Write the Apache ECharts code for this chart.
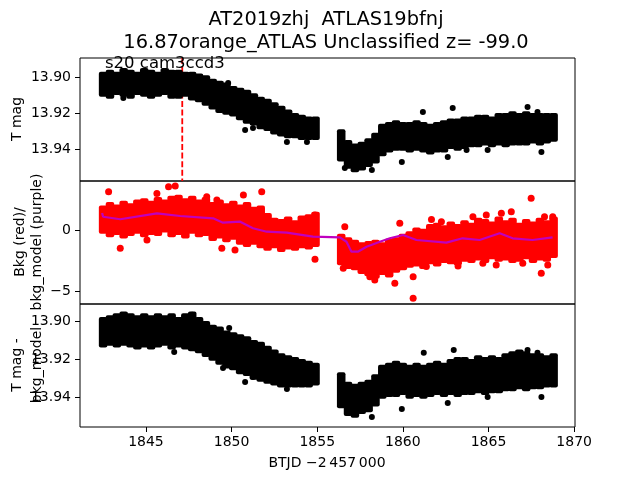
<!DOCTYPE html>
<html>
<head>
<meta charset="utf-8">
<script src="https://cdn.jsdelivr.net/npm/echarts@6/dist/echarts.min.js"></script>
<style>html,body{margin:0;padding:0;background:#fff}#c{width:640px;height:480px}</style>
</head>
<body>
<div id="c"></div>
<script>
// ---- data ----
const titleLine1 = 'AT2019zhj  ATLAS19bfnj';
const titleLine2 = '16.87orange_ATLAS Unclassified z= -99.0';
const xTicks = [1845, 1850, 1855, 1860, 1865, 1870];
const magTicks = [13.90, 13.92, 13.94];
const bkgTicks = [-5, 0];
const resTicks = [13.90, 13.92, 13.94];
const markerTime = 1847.12;

// time samples of the dense light-curve band (BTJD - 2457000)
const tBand = [1842.5,1842.9,1843.3,1843.7,1844.1,1844.5,1844.9,1845.3,1845.7,1846.1,1846.5,1846.9,1847.3,1847.7,1848.1,1848.5,1848.9,1849.3,1849.7,1850.1,1850.5,1850.9,1851.3,1851.7,1852.1,1852.5,1852.9,1853.3,1853.7,1854.1,1854.5,1854.9,
  1856.4,1856.8,1857.2,1857.6,1858.0,1858.4,1858.8,1859.2,1859.6,1860.0,1860.4,1860.8,1861.2,1861.6,1862.0,1862.4,1862.8,1863.2,1863.6,1864.0,1864.4,1864.8,1865.2,1865.6,1866.0,1866.4,1866.8,1867.2,1867.6,1868.0,1868.4,1868.8];

// panel 1: T mag band (bright edge / faint edge)
const magTop = [13.897,13.896,13.897,13.895,13.896,13.897,13.895,13.896,13.897,13.895,13.896,13.896,13.897,13.897,13.898,13.899,13.901,13.902,13.903,13.905,13.906,13.907,13.909,13.911,13.912,13.914,13.916,13.918,13.920,13.921,13.922,13.922,
  13.929,13.935,13.937,13.936,13.934,13.931,13.926,13.925,13.924,13.925,13.925,13.924,13.925,13.926,13.925,13.924,13.923,13.923,13.922,13.922,13.921,13.921,13.922,13.920,13.920,13.919,13.920,13.919,13.920,13.920,13.920,13.920];
const magBot = [13.911,13.912,13.910,13.911,13.912,13.910,13.911,13.912,13.911,13.910,13.912,13.912,13.911,13.913,13.914,13.916,13.918,13.920,13.921,13.922,13.924,13.926,13.927,13.929,13.930,13.932,13.933,13.934,13.934,13.935,13.935,13.935,
  13.947,13.951,13.953,13.952,13.950,13.948,13.944,13.942,13.941,13.941,13.942,13.941,13.942,13.943,13.942,13.942,13.940,13.941,13.940,13.939,13.939,13.938,13.939,13.938,13.939,13.938,13.938,13.938,13.937,13.938,13.937,13.936];
const magOutT = [1850.79,1851.25,1853.23,1854.40,1849.80,1859.94,1861.17,1862.91,1867.28,1867.86,1868.09,1862.62,1864.95,1858.19,1856.61,1863.72,1843.68];
const magOutV = [13.9294,13.9283,13.9361,13.9361,13.9033,13.9472,13.9194,13.9172,13.9167,13.9194,13.9417,13.9444,13.9406,13.9517,13.9506,13.9406,13.9117];

// panel 2: background (red) core band and scattered points, model (purple)
const bkgTop = [2.0,2.3,2.1,2.4,2.2,2.5,2.6,2.4,2.7,2.5,2.8,2.9,2.6,2.8,2.5,2.7,2.3,2.5,2.2,2.4,2.1,2.3,1.9,2.0,1.4,1.0,0.9,1.1,0.8,1.2,1.3,1.5,
  -0.3,-0.6,-0.8,-1.0,-0.9,-0.8,-1.0,-0.7,-0.6,-0.3,-0.1,0.2,0.1,0.5,0.6,0.4,0.7,0.5,0.8,0.6,1.0,0.9,0.7,1.1,0.8,1.0,0.6,0.9,0.7,1.0,0.8,1.1];
const bkgBot = [-0.3,-0.6,-0.4,-0.7,-0.5,-0.3,-0.6,-0.4,-0.5,-0.2,-0.6,-0.4,-0.7,-0.3,-0.6,-0.5,-0.9,-0.7,-1.0,-0.8,-1.2,-1.4,-1.2,-1.5,-1.7,-1.5,-1.8,-1.6,-1.7,-1.5,-1.6,-1.4,
  -2.9,-3.2,-3.3,-3.6,-3.8,-4.0,-3.7,-3.9,-3.5,-3.3,-3.1,-3.0,-3.2,-2.8,-3.0,-2.7,-2.8,-2.9,-2.6,-2.7,-2.5,-2.7,-2.4,-2.6,-2.5,-2.7,-2.6,-2.4,-2.7,-2.5,-2.6,-2.3];
const bkgOutT = [1842.82,1846.32,1846.71,1851.76,1850.69,1843.50,1845.06,1849.43,1850.20,1854.87,1856.61,1859.82,1860.60,1858.36,1859.53,1867.49,1868.08,1866.33,1864.87,1861.67,1863.22,1865.45,1868.46,1868.75,1854.87,1845.64,1848.55,1849.14,1860.60,1856.52,1856.52,1858.07,1862.25,1864.09,1865.75,1868.27,1864.67,1867.00,1861.37];
const bkgOutV = [3.14,3.55,3.60,3.14,2.87,-1.50,-0.82,-1.50,-1.64,-2.40,0.27,0.55,-5.60,-4.10,-4.37,2.60,-3.55,1.50,1.23,0.87,-2.95,-2.87,-2.87,1.09,1.23,3.00,2.73,2.46,-3.83,-2.19,-3.14,-3.83,0.68,1.09,1.37,1.09,-2.73,-2.73,-3.00];
const modelT = [1842.44,1842.5,1843.50,1845.64,1847.00,1848.92,1849.50,1850.50,1851.25,1852.05,1853.22,1854.75,1856.32,1856.71,1857.00,1857.37,1857.88,1858.66,1859.24,1860.01,1860.79,1862.54,1863.49,1864.48,1865.65,1866.41,1867.57,1868.74];
const modelV = [1.40,1.09,0.88,1.37,1.15,0.96,0.60,0.68,0.14,-0.14,-0.22,-0.55,-0.60,-0.96,-1.78,-1.78,-1.37,-0.96,-0.68,-0.41,-0.82,-1.04,-0.68,-0.82,-0.27,-0.68,-0.82,-0.60];

// panel 3: T mag - bkg_model band
const resTop = [13.898,13.897,13.896,13.895,13.896,13.897,13.896,13.897,13.896,13.897,13.896,13.898,13.896,13.895,13.898,13.900,13.902,13.903,13.905,13.906,13.907,13.908,13.910,13.911,13.913,13.915,13.917,13.918,13.919,13.920,13.921,13.922,
  13.927,13.932,13.933,13.932,13.931,13.928,13.923,13.922,13.921,13.922,13.923,13.922,13.923,13.922,13.921,13.922,13.920,13.919,13.919,13.920,13.918,13.919,13.918,13.919,13.917,13.916,13.915,13.916,13.917,13.917,13.918,13.917];
const resBot = [13.914,13.913,13.914,13.913,13.914,13.915,13.914,13.915,13.914,13.913,13.915,13.914,13.915,13.916,13.917,13.919,13.921,13.923,13.925,13.926,13.928,13.929,13.931,13.932,13.933,13.934,13.935,13.935,13.935,13.935,13.935,13.934,
  13.946,13.950,13.951,13.949,13.948,13.945,13.941,13.940,13.940,13.939,13.941,13.940,13.941,13.940,13.939,13.940,13.939,13.940,13.939,13.939,13.938,13.939,13.938,13.938,13.937,13.937,13.936,13.937,13.936,13.936,13.935,13.935];
const resOutT = [1849.86,1849.50,1850.79,1851.25,1853.23,1846.65,1861.22,1862.97,1867.28,1867.86,1859.94,1858.19,1868.09,1864.95,1862.62,1847.70];
const resOutV = [13.9037,13.9247,13.9321,13.9295,13.9358,13.9163,13.9168,13.9153,13.9153,13.9168,13.9463,13.9505,13.9400,13.9400,13.9432,13.8968];

// ---- chart ----
const FONT = 'DejaVu Sans';
const X0 = 80, XW = 495, PH = 123, TOPS = [58, 181, 304];
const xMin = 1841.15, xMax = 1870.05;
const yRanges = [[13.8894, 13.9578], [-6.07, 4.02], [13.8911, 13.9558]];

function zip3(a, b, c) { return a.map((v, i) => [v, b[i], c[i]]); }
function zip2(a, b) { return a.map((v, i) => [v, b[i]]); }
function bandRender(color) {
  return function (params, api) {
    const t = api.value(0), a = api.value(1), b = api.value(2);
    const p1 = api.coord([t - 0.25, a]);
    const p2 = api.coord([t + 0.25, b]);
    const x = Math.min(p1[0], p2[0]), y = Math.min(p1[1], p2[1]);
    return { type: 'rect', shape: { x: x, y: y, width: Math.abs(p2[0] - p1[0]), height: Math.abs(p2[1] - p1[1]), r: 2 },
      style: { fill: color } };
  };
}
const minus = s => String(s).replace('-', '\u2212');

const grids = TOPS.map(t => ({ left: X0, width: XW, top: t, height: PH, show: true, borderColor: '#000', borderWidth: 1, backgroundColor: 'transparent' }));
const xAxes = [0, 1, 2].map(i => ({
  type: 'value', gridIndex: i, min: xMin, max: xMax,
  splitLine: { show: false }, axisLine: { show: false },
  axisTick: { show: i === 2, inside: false, length: 5, lineStyle: { color: '#000' }, customValues: xTicks },
  axisLabel: { show: i === 2, margin: 8, fontFamily: FONT, fontSize: 14, color: '#000', customValues: xTicks, formatter: v => String(v) }
}));
const yTickSets = [magTicks, bkgTicks, resTicks];
const yAxes = [0, 1, 2].map(i => ({
  type: 'value', gridIndex: i, min: yRanges[i][0], max: yRanges[i][1], inverse: i !== 1,
  splitLine: { show: false }, axisLine: { show: false },
  axisTick: { show: true, inside: false, length: 5, lineStyle: { color: '#000' }, customValues: yTickSets[i] },
  axisLabel: { margin: 9, fontFamily: FONT, fontSize: 14, color: '#000', customValues: yTickSets[i],
    formatter: v => i === 1 ? minus(Math.round(v)) : Number(v).toFixed(2) }
}));

const series = [
  { type: 'line', xAxisIndex: 0, yAxisIndex: 0, data: [[markerTime, yRanges[0][0]], [markerTime, yRanges[0][1]]],
    showSymbol: false, symbol: 'none', lineStyle: { color: '#ff0000', width: 1.8, type: [6, 2.6] }, z: 1, silent: true },
  { type: 'custom', xAxisIndex: 0, yAxisIndex: 0, data: zip3(tBand, magTop, magBot), renderItem: bandRender('#000'), z: 2 },
  { type: 'scatter', xAxisIndex: 0, yAxisIndex: 0, data: zip2(magOutT, magOutV), symbolSize: 6, itemStyle: { color: '#000', opacity: 1 }, z: 3 },
  { type: 'custom', xAxisIndex: 1, yAxisIndex: 1, data: zip3(tBand, bkgTop, bkgBot), renderItem: bandRender('#ff0000'), z: 2 },
  { type: 'scatter', xAxisIndex: 1, yAxisIndex: 1, data: zip2(bkgOutT, bkgOutV), symbolSize: 7, itemStyle: { color: '#ff0000', opacity: 1 }, z: 3 },
  { type: 'line', xAxisIndex: 1, yAxisIndex: 1, data: zip2(modelT, modelV), showSymbol: false, symbol: 'none',
    lineStyle: { color: '#bf00bf', width: 2.2 }, z: 4 },
  { type: 'custom', xAxisIndex: 2, yAxisIndex: 2, data: zip3(tBand, resTop, resBot), renderItem: bandRender('#000'), z: 2 },
  { type: 'scatter', xAxisIndex: 2, yAxisIndex: 2, data: zip2(resOutT, resOutV), symbolSize: 6, itemStyle: { color: '#000', opacity: 1 }, z: 3 }
];

function txt(x, y, text, size, rot) {
  return { type: 'text', x: x, y: y, rotation: rot || 0, z: 100,
    style: { text: text, fontFamily: FONT, fontSize: size, fill: '#000', align: 'center', verticalAlign: 'middle' } };
}
const graphics = [
  txt(326, 20, titleLine1, 19.4),
  txt(326, 43, titleLine2, 19.4),
  { type: 'text', x: 105, y: 64, z: 100, style: { text: 's20 cam3ccd3', fontFamily: FONT, fontSize: 16.5, fill: '#000', align: 'left', verticalAlign: 'middle' } },
  txt(17, 119, 'T mag', 14, Math.PI / 2),
  txt(20, 242, 'Bkg (red)/', 14, Math.PI / 2),
  txt(37, 242, 'bkg_model (purple)', 14, Math.PI / 2),
  txt(17, 365, 'T mag -', 14, Math.PI / 2),
  txt(37, 365, 'bkg_model', 14, Math.PI / 2),
  txt(327, 463, 'BTJD \u22122\u2009457\u2009000', 14)
];

const chart = echarts.init(document.getElementById('c'), null, { renderer: 'canvas' });
chart.setOption({
  animation: false,
  backgroundColor: '#fff',
  grid: grids, xAxis: xAxes, yAxis: yAxes, series: series, graphic: graphics
});
</script>
</body>
</html>
